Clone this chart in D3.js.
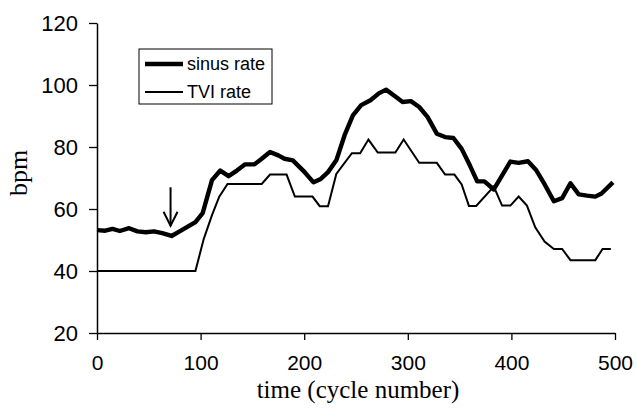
<!DOCTYPE html>
<html>
<head>
<meta charset="utf-8">
<script src="https://cdn.jsdelivr.net/npm/d3@7/dist/d3.min.js"></script>
<style>
html,body{margin:0;padding:0;background:#fff;}
svg{display:block;}
</style>
</head>
<body>
<svg id="chart" width="637" height="412"></svg>
<script>
// ---- data ----
const sinusCycles = [0, 8, 15, 22, 31, 39, 47, 55, 63, 72, 81, 95, 102, 111, 119, 127, 135, 143, 152, 159, 167, 175, 181, 189, 199, 209, 216, 223, 231, 239, 247, 255, 264, 272, 279, 288, 295, 303, 311, 319, 328, 336, 344, 352, 360, 367, 374, 383, 399, 407, 416, 424, 432, 441, 449, 457, 465, 473, 481, 487, 498];
const sinusRate   = [53.2, 53.0, 53.6, 52.9, 53.8, 52.8, 52.5, 52.8, 52.2, 51.3, 53.0, 55.8, 58.7, 69.3, 72.4, 70.6, 72.4, 74.4, 74.4, 76.2, 78.4, 77.3, 76.2, 75.7, 72.4, 68.6, 69.7, 71.9, 75.7, 83.8, 90.2, 93.5, 95.1, 97.3, 98.5, 96.3, 94.5, 94.8, 92.9, 89.7, 84.3, 83.2, 82.9, 79.4, 74.0, 68.9, 68.9, 66.3, 75.3, 74.9, 75.4, 72.5, 68.0, 62.5, 63.5, 68.3, 64.7, 64.3, 64.0, 65.0, 68.6];
const tviCycles = [0, 95, 103, 111, 118, 126, 159, 167, 183, 191, 208, 215, 223, 231, 246, 254, 262, 271, 288, 296, 311, 328, 336, 345, 352, 359, 366, 383, 391, 399, 407, 415, 423, 432, 441, 449, 457, 481, 488, 496];
const tviRate   = [40, 40, 50.3, 58.0, 64.0, 68.1, 68.1, 71.1, 71.1, 64.0, 64.0, 60.9, 60.9, 71.3, 78.0, 78.0, 82.4, 78.2, 78.2, 82.4, 74.9, 74.9, 71.1, 71.1, 67.9, 61.0, 61.0, 67.2, 61.1, 61.1, 64.0, 61.1, 54.1, 49.5, 47.1, 47.1, 43.5, 43.5, 47.1, 47.1];
const xTicks = [0, 100, 200, 300, 400, 500];
const yTicks = [20, 40, 60, 80, 100, 120];
const seriesNames = ["sinus rate", "TVI rate"];
const arrowCycle = 71, arrowFrom = 67, arrowTo = 54.6;

// ---- chart ----
const svg = d3.select("#chart");
const x = d3.scaleLinear().domain([0, 500]).range([97, 615]);
const y = d3.scaleLinear().domain([20, 120]).range([333, 23]);

const sansFont = "'Liberation Sans', Arial, sans-serif";
const serifFont = "'Liberation Serif', 'Times New Roman', serif";

// y axis
const yAxis = svg.append("g")
  .attr("transform", `translate(${x(0)},0)`)
  .call(d3.axisLeft(y).tickValues(yTicks).tickSize(8).tickSizeOuter(0).tickPadding(11));
// x axis
const xAxis = svg.append("g")
  .attr("transform", `translate(0,${y(20)})`)
  .call(d3.axisBottom(x).tickValues(xTicks).tickSize(7).tickSizeOuter(0).tickPadding(15));

[yAxis, xAxis].forEach(g => {
  g.select(".domain").attr("stroke", "#000").attr("stroke-width", 1.5);
  g.selectAll(".tick line").attr("stroke", "#000").attr("stroke-width", 1.3);
  g.selectAll(".tick text").attr("fill", "#000").style("font-family", sansFont);
});
yAxis.selectAll(".tick text").style("font-size", "22px");
xAxis.selectAll(".tick text").style("font-size", "21px");

// lines
const sinusData = sinusCycles.map((c, i) => [c, sinusRate[i]]);
const tviData = tviCycles.map((c, i) => [c, tviRate[i]]);
const line = d3.line().x(d => x(d[0])).y(d => y(d[1]));

svg.append("path").datum(tviData)
  .attr("d", line).attr("fill", "none")
  .attr("stroke", "#000").attr("stroke-width", 2).attr("stroke-linejoin", "miter");
svg.append("path").datum(sinusData)
  .attr("d", line).attr("fill", "none")
  .attr("stroke", "#000").attr("stroke-width", 4.4).attr("stroke-linejoin", "round");

// arrow
const ax = x(arrowCycle);
svg.append("line")
  .attr("x1", ax).attr("x2", ax).attr("y1", y(arrowFrom)).attr("y2", y(arrowTo))
  .attr("stroke", "#000").attr("stroke-width", 2);
svg.append("path")
  .attr("d", `M${ax - 7},${y(arrowTo) - 14} L${ax},${y(arrowTo)} L${ax + 7},${y(arrowTo) - 14}`)
  .attr("fill", "none").attr("stroke", "#000").attr("stroke-width", 2);

// axis titles
svg.append("text")
  .attr("x", 358).attr("y", 397.5)
  .attr("text-anchor", "middle")
  .style("font-family", serifFont).style("font-size", "25px")
  .text("time (cycle number)");
svg.append("text")
  .attr("transform", `translate(27,173) rotate(-90)`)
  .attr("text-anchor", "middle")
  .style("font-family", serifFont).style("font-size", "26px")
  .text("bpm");

// legend
const lg = svg.append("g");
lg.append("rect").attr("x", 139).attr("y", 49).attr("width", 133).attr("height", 55)
  .attr("fill", "#fff").attr("stroke", "#000").attr("stroke-width", 1);
const widths = [4.4, 2];
seriesNames.forEach((name, i) => {
  const ly = 64 + i * 28;
  lg.append("line").attr("x1", 145).attr("x2", 183).attr("y1", ly).attr("y2", ly)
    .attr("stroke", "#000").attr("stroke-width", widths[i]);
  lg.append("text").attr("x", 187).attr("y", ly + 6)
    .style("font-family", sansFont).style("font-size", "18px")
    .text(name);
});
</script>
</body>
</html>
